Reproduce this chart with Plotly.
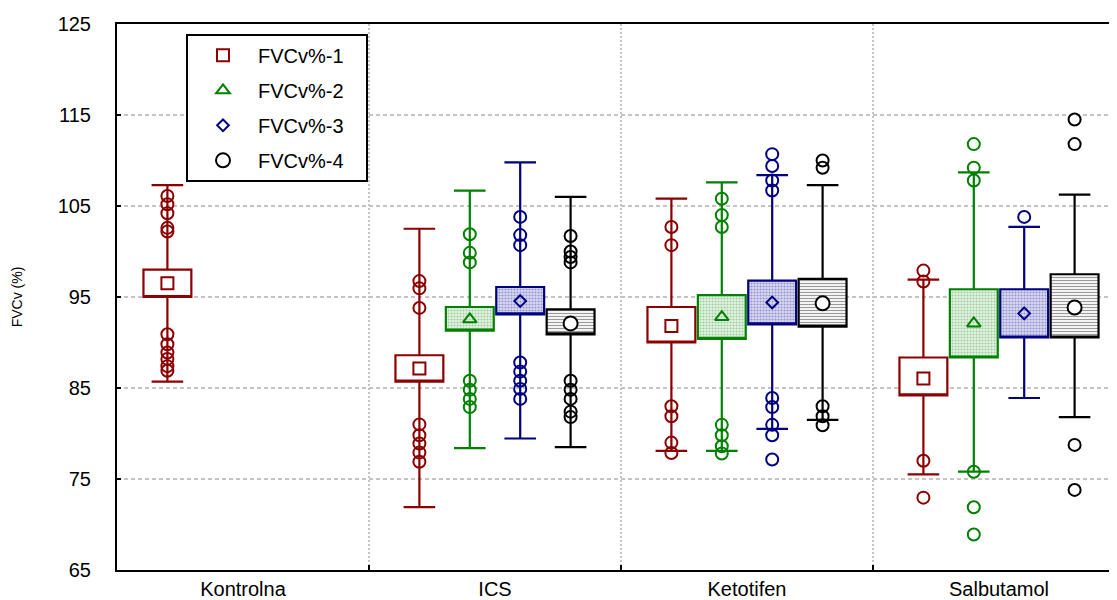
import plotly.graph_objects as go

categories = ["Kontrolna", "ICS", "Ketotifen", "Salbutamol"]
series_names = ["FVCv%-1", "FVCv%-2", "FVCv%-3", "FVCv%-4"]

# series 1
mean1 = [96.5, 87.15, 91.8, 86.05]
box_lo1 = [95.0, 85.7, 90.0, 84.2]
box_hi1 = [98.0, 88.6, 93.9, 88.35]
wh_lo1 = [85.7, 71.9, 78.1, 75.5]
wh_hi1 = [107.3, 102.5, 105.8, 96.9]
out1 = [[106.1, 105.2, 104.2, 102.6, 102.2, 90.9, 89.8, 88.9, 88.2, 87.4, 86.9],
        [96.75, 95.95, 93.8, 81.0, 79.8, 78.9, 77.9, 76.9],
        [102.7, 100.7, 83.0, 81.9, 79.0, 77.85],
        [97.9, 96.7, 77.0, 72.95]]

# series 2
mean2 = [None, 92.55, 92.8, 92.1]
box_lo2 = [None, 91.3, 90.4, 88.35]
box_hi2 = [None, 93.9, 95.2, 95.85]
wh_lo2 = [None, 78.4, 78.1, 75.8]
wh_hi2 = [None, 106.7, 107.6, 108.7]
out2 = [[],
        [101.9, 99.85, 98.8, 85.8, 84.8, 83.8, 82.9],
        [105.8, 104.0, 102.7, 80.95, 79.8, 78.6, 77.8],
        [111.8, 109.2, 107.8, 75.8, 71.9, 68.9]]

# series 3
mean3 = [None, 94.55, 94.4, 93.2]
box_lo3 = [None, 93.1, 92.0, 90.55]
box_hi3 = [None, 96.1, 96.8, 95.85]
wh_lo3 = [None, 79.45, 80.5, 83.9]
wh_hi3 = [None, 109.8, 108.4, 102.7]
out3 = [[],
        [103.8, 101.8, 100.7, 87.8, 86.8, 85.8, 84.9, 83.8],
        [110.7, 109.4, 107.8, 106.7, 83.9, 82.9, 80.95, 79.8, 77.15],
        [103.8]]

# series 4
mean4 = [None, 92.1, 94.3, 93.85]
box_lo4 = [None, 90.9, 91.75, 90.55]
box_hi4 = [None, 93.65, 97.0, 97.5]
wh_lo4 = [None, 78.5, 81.5, 81.8]
wh_hi4 = [None, 106.0, 107.3, 106.25]
out4 = [[],
        [101.7, 100.0, 99.4, 98.8, 85.8, 84.8, 83.8, 82.4, 81.8],
        [110.0, 109.2, 83.0, 81.9, 80.9],
        [114.5, 111.8, 78.75, 73.8]]

y_ticks = [65, 75, 85, 95, 105, 115, 125]

series = [
    (mean1, box_lo1, box_hi1, wh_lo1, wh_hi1, out1),
    (mean2, box_lo2, box_hi2, wh_lo2, wh_hi2, out2),
    (mean3, box_lo3, box_hi3, wh_lo3, wh_hi3, out3),
    (mean4, box_lo4, box_hi4, wh_lo4, wh_hi4, out4),
]

colors = ["#8b0000", "#008000", "#000080", "#000000"]
patterns = [
    dict(shape="", bgcolor="white"),
    dict(shape=".", fgcolor="#9ccf9c", bgcolor="#e6f3e6", size=3, solidity=0.4, fillmode="replace"),
    dict(shape=".", fgcolor="#9494d4", bgcolor="#dadaf1", size=3, solidity=0.4, fillmode="replace"),
    dict(shape="-", fgcolor="#9a9a9a", bgcolor="#f4f4f4", size=3, solidity=0.35, fillmode="replace"),
]
mean_symbols = ["square-open", "triangle-up-open", "diamond-open", "circle"]
mean_sizes = [12, 12, 9, 14]

SLOT = 0.2
BOXW = 0.19

fig = go.Figure()

for si, (mean, blo, bhi, wlo, whi, outs) in enumerate(series):
    idx = [ci for ci in range(len(categories)) if mean[ci] is not None]
    xs = [ci + (si - 1.5) * SLOT for ci in idx]
    col = colors[si]
    fig.add_trace(go.Bar(
        x=xs, base=[blo[i] for i in idx], y=[bhi[i] - blo[i] for i in idx],
        width=BOXW, showlegend=False, hoverinfo="skip",
        marker=dict(color=patterns[si].get("bgcolor", "white"),
                    pattern=patterns[si], line=dict(width=0)),
    ))
    fig.add_trace(go.Box(
        x=xs, q1=[blo[i] for i in idx], median=[blo[i] for i in idx],
        q3=[bhi[i] for i in idx], lowerfence=[wlo[i] for i in idx],
        upperfence=[whi[i] for i in idx], width=BOXW, whiskerwidth=0.66,
        fillcolor="rgba(0,0,0,0)", line=dict(color=col, width=2.2),
        boxpoints=False, showlegend=False, hoverinfo="skip",
    ))
    ox, oy = [], []
    for ci in range(len(categories)):
        for v in outs[ci]:
            ox.append(ci + (si - 1.5) * SLOT)
            oy.append(v)
    fig.add_trace(go.Scatter(
        x=ox, y=oy, mode="markers", showlegend=False, hoverinfo="skip",
        marker=dict(symbol="circle-open", size=12, color=col, line=dict(width=2, color=col)),
    ))

for si, (mean, *_rest) in enumerate(series):
    idx = [ci for ci in range(len(categories)) if mean[ci] is not None]
    xs = [ci + (si - 1.5) * SLOT for ci in idx]
    col = colors[si]
    fig.add_trace(go.Scatter(
        x=xs, y=[mean[i] for i in idx], mode="markers",
        name=series_names[si] + "\u00a0\u00a0\u00a0",
        legendgroup=series_names[si],
        marker=dict(symbol=mean_symbols[si], size=mean_sizes[si],
                    color="white" if si == 3 else col,
                    line=dict(width=2, color=col)),
    ))

fig.update_layout(
    width=1109, height=592,
    margin=dict(l=109, r=0, t=16, b=22),
    paper_bgcolor="white", plot_bgcolor="white",
    barmode="overlay", boxmode="overlay",
    font=dict(family="Liberation Sans, Arial, sans-serif", color="black"),
    showlegend=True,
    legend=dict(
        x=0.069, y=0.982, xanchor="left", yanchor="top",
        bordercolor="black", borderwidth=2, bgcolor="white",
        font=dict(size=20), tracegroupgap=6, traceorder="grouped",
        itemwidth=60,
    ),
)

fig.update_xaxes(
    range=[-0.5, 3.5 - 8 / 252], tickmode="array",
    tickvals=list(range(len(categories))), ticktext=categories,
    ticks="", showgrid=False, zeroline=False,
    showline=True, linecolor="black", linewidth=2, mirror=True,
    tickfont=dict(size=20),
    minor=dict(tickmode="array", tickvals=[0.5, 1.5, 2.5], ticks="inside", ticklen=5,
               tickcolor="black", tickwidth=2, showgrid=True, gridcolor="#c4c4c4",
               griddash="2px,2px", gridwidth=1.5),
)
fig.update_yaxes(
    range=[65, 125], tickmode="array", tickvals=y_ticks,
    ticks="inside", ticklen=4, tickwidth=2, tickcolor="black",
    showgrid=True, gridcolor="#c4c4c4", griddash="4px,3px", gridwidth=1.5,
    zeroline=False, showline=True, linecolor="black", linewidth=2,
    tickfont=dict(size=20), ticklabelstandoff=20,
    title=dict(text="FVCv (%)", font=dict(size=14), standoff=32),
)

fig.write_html("out.html")
